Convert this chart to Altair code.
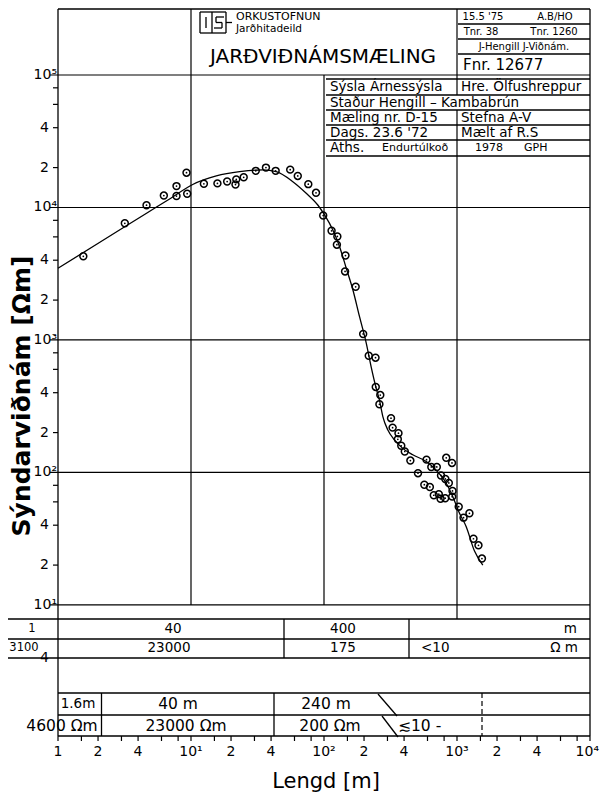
import altair as alt
import pandas as pd

FONT = "DejaVu Sans"

# ---------------- data read from the sounding sheet ----------------
# measured points: AB/2 [m] and apparent resistivity [ohm m]
ab2 = [1.55, 3.18, 4.63, 6.25, 7.78, 7.78, 9.25, 9.36, 12.5, 15.8, 18.7, 21.6, 21.9, 24.9,
       30.7, 36.6, 43.3, 55.7, 63.5, 76.2, 87.1, 98.6, 114, 126, 125, 145, 144, 173,
       197, 217, 244, 245, 265, 261, 319, 328, 363, 359, 381, 405, 446, 509, 590, 641,
       705, 830, 917, 758, 817, 868, 568, 625, 669, 730, 752, 815, 925, 920, 1030, 1120,
       1240, 1330, 1450, 1540]
rho = [4280, 7600, 10400, 12300, 12200, 14500, 18300, 12700, 15100, 15200, 15700, 14900,
       16300, 16900, 18900, 20000, 18900, 19300, 17300, 15000, 12900, 8700, 6670, 6040,
       5240, 4340, 3290, 2520, 1110, 760, 735, 442, 384, 327, 257, 218, 198, 178, 159,
       144, 123, 98.8, 125, 110, 110, 129, 118, 94.9, 89.3, 83.3, 80.8, 77.7, 67.3, 68.6,
       63.3, 63.9, 72.5, 65.7, 55.2, 45.6, 49.2, 31.6, 28.2, 22.4]

# interpreted (model) curve
curve_ab2 = [1, 2.05, 4.6, 7.0, 10.3, 15.5, 23.2, 34.7, 43.7, 58.3, 73.5, 89.8, 101, 116.5,
             131, 147, 165, 185, 208, 226, 247, 261, 277, 302, 339, 391, 465, 587, 698, 830,
             930, 1044, 1173, 1354, 1563]
curve_rho = [3476, 5440, 9010, 11700, 14900, 17290, 18630, 19190, 18630, 15650, 12800, 10440,
             8780, 6765, 5060, 3476, 2384, 1499, 944, 629, 430, 353, 264, 209, 176, 152, 136,
             121, 104, 82.9, 65.7, 49.2, 39.0, 25.5, 20.0]

# axes ticks / labels
x_label_vals = [1, 2, 4, 10, 20, 40, 100, 200, 400, 1000, 2000, 4000]
x_label_text = ["1", "2", "4", "10¹", "2", "4", "10²", "2", "4", "10³", "2", "4"]
x_last_val = [10000]
x_last_text = ["10⁴"]
x_minor = [1, 1.5, 2, 3, 4, 6, 8, 10, 15, 20, 30, 40, 60, 80, 100, 150, 200, 300, 400, 600,
           800, 1000, 1500, 2000, 3000, 4000, 6000, 8000, 10000]
y_decades = [10, 100, 1000, 10000, 100000]
y_decade_text = ["10¹", "10²", "10³", "10⁴", "10⁵"]
y_sub_vals = [4, 20, 40, 200, 400, 2000, 4000, 20000, 40000]
y_sub_text = ["4", "2", "4", "2", "4", "2", "4", "2", "4"]
y_minor = [20, 40, 60, 80, 200, 400, 600, 800, 2000, 4000, 6000, 8000,
           20000, 40000, 60000, 80000]

# ---------------- layout (form drawing, page pixels) ----------------
OX, OY = 58, 9          # page position of the plot origin
W, H = 532, 727

xs = alt.Scale(type="log", domain=[1, 10000], nice=False)
ys = alt.Scale(type="log", domain=[1.0257, 314775], nice=False)


def rules(segs, width=1.3, dash=None):
    df = pd.DataFrame([{"x": a - OX, "y": b - OY, "x2": c - OX, "y2": d - OY}
                       for a, b, c, d in segs])
    kw = dict(color="black", strokeWidth=width)
    if dash:
        kw["strokeDash"] = dash
    return alt.Chart(df).mark_rule(**kw).encode(
        x=alt.X("x:Q", scale=None), y=alt.Y("y:Q", scale=None),
        x2="x2:Q", y2="y2:Q")


def texts(items, size=12, weight="normal", align="left", angle=None):
    df = pd.DataFrame([{"x": x - OX, "y": y - OY, "t": t} for t, x, y in items])
    kw = dict(font=FONT, fontSize=size, fontWeight=weight, align=align,
              baseline="middle", color="black")
    if angle is not None:
        kw["angle"] = angle
    return alt.Chart(df).mark_text(**kw).encode(
        x=alt.X("x:Q", scale=None), y=alt.Y("y:Q", scale=None), text="t:N")


frame = rules([
    (58, 9, 590, 9), (58, 9, 58, 736), (590, 9, 590, 736), (58, 736, 590, 736),
    # right header column rows
    (458, 24, 590, 24), (458, 39, 590, 39), (458, 54, 590, 54),
    # info table
    (326, 79, 590, 79), (326, 95, 590, 95), (326, 110, 590, 110), (326, 125, 590, 125),
    (326, 140, 590, 140), (326, 156, 590, 156),
    # lower tables
    (8, 619, 590, 619), (8, 639, 590, 639), (8, 658, 590, 658),
    (58, 693, 590, 693), (58, 715, 590, 715),
    (284, 619, 284, 658), (409, 619, 409, 658),
    (101.5, 693, 101.5, 736), (274, 693, 274, 736),
    (378, 694, 397, 716), (382, 716, 398, 737),
    # logo
    (200, 12, 226, 12), (200, 33, 226, 33), (200, 12, 200, 33), (226, 12, 226, 33),
    (206, 17, 206, 28), (212, 12, 212, 33),
    (224, 17, 216, 17), (216, 17, 216, 22.5), (216, 22.5, 222, 22.5), (222, 22.5, 222, 28),
    (222, 28, 214, 28), (226, 22.5, 232, 22.5),
], width=1.3)
dashed = rules([(482, 693, 482, 736)], width=1.2, dash=[5, 3])

# decade grid lines (data positions)
hgrid = alt.Chart(pd.DataFrame({"v": y_decades})).mark_rule(color="black", strokeWidth=1.2).encode(
    y=alt.Y("v:Q", scale=ys, axis=None), x=alt.value(-8), x2=alt.value(W))
vgrid = alt.Chart(pd.DataFrame({"v": [10, 100, 1000, 1000],
                                "y0": [0, 66, 0, 101], "y1": [596, 596, 86, 610]})
                  ).mark_rule(color="black", strokeWidth=1.2).encode(
    x=alt.X("v:Q", scale=xs, axis=None), y=alt.Y("y0:Q", scale=None), y2="y1:Q")

yminor = alt.Chart(pd.DataFrame({"v": y_minor})).mark_rule(color="black", strokeWidth=1.2).encode(
    y=alt.Y("v:Q", scale=ys, axis=None), x=alt.value(-5), x2=alt.value(0))
xminor = alt.Chart(pd.DataFrame({"v": x_minor})).mark_rule(color="black", strokeWidth=1.2).encode(
    x=alt.X("v:Q", scale=xs, axis=None), y=alt.value(H), y2=alt.value(H + 5))

xlab = alt.Chart(pd.DataFrame({"v": x_label_vals, "t": x_label_text})).mark_text(
    font=FONT, fontSize=14, baseline="middle", align="center").encode(
    x=alt.X("v:Q", scale=xs, axis=None), y=alt.value(743), text="t:N")
xlab_last = alt.Chart(pd.DataFrame({"v": x_last_val, "t": x_last_text})).mark_text(
    font=FONT, fontSize=14, baseline="middle", align="right", dx=9).encode(
    x=alt.X("v:Q", scale=xs, axis=None), y=alt.value(743), text="t:N")
ylab_dec = alt.Chart(pd.DataFrame({"v": y_decades, "t": y_decade_text})).mark_text(
    font=FONT, fontSize=14, baseline="middle", align="right").encode(
    y=alt.Y("v:Q", scale=ys, axis=None), x=alt.value(-1), text="t:N")
ylab_sub = alt.Chart(pd.DataFrame({"v": y_sub_vals, "t": y_sub_text})).mark_text(
    font=FONT, fontSize=14, baseline="middle", align="right").encode(
    y=alt.Y("v:Q", scale=ys, axis=None), x=alt.value(-9), text="t:N")

curve = alt.Chart(pd.DataFrame({"a": curve_ab2, "r": curve_rho})).mark_line(
    color="black", strokeWidth=1.3, interpolate="monotone").encode(
    x=alt.X("a:Q", scale=xs, axis=None), y=alt.Y("r:Q", scale=ys, axis=None))
pts_df = pd.DataFrame({"a": ab2, "r": rho})
pts = alt.Chart(pts_df).mark_point(shape="circle", filled=False, size=48, color="black",
                                   strokeWidth=1.5, opacity=1).encode(
    x=alt.X("a:Q", scale=xs, axis=None), y=alt.Y("r:Q", scale=ys, axis=None))
dots = alt.Chart(pts_df).mark_point(shape="circle", filled=True, size=3, color="black",
                                    opacity=1).encode(
    x=alt.X("a:Q", scale=xs, axis=None), y=alt.Y("r:Q", scale=ys, axis=None))

# header texts
hdr_small = texts([("ORKUSTOFNUN", 236, 16.5)], size=11)
hdr_small2 = texts([("Jarðhitadeild", 236, 28.5)], size=10.5)
hdr_title = texts([("JARÐVIÐNÁMSMÆLING", 323, 57)], size=20, align="center")
hdr_right = texts([("15.5 '75", 483, 16.5), ("A.B/HO", 555, 16.5),
                   ("Tnr. 38", 481, 31.5), ("Tnr. 1260", 554, 31.5),
                   ("J-Hengill J-Viðnám.", 524, 46.5)], size=10, align="center")
hdr_fnr = texts([("Fnr. 12677", 463, 64.5)], size=15)
info = texts([("Sýsla  Árnessýsla", 330, 87), ("Hre. Ölfushreppur", 461, 87),
              ("Staður  Hengill – Kambabrún", 330, 102.5),
              ("Mæling nr. D-15", 330, 117.5), ("Stefna  A-V", 461, 117.5),
              ("Dags. 23.6 '72", 330, 132.5), ("Mælt af  R.S", 461, 132.5),
              ("Áths.", 330, 148)], size=13.5)
info2 = texts([("Endurtúlkoð", 382, 148), ("1978", 475, 148), ("GPH", 524, 148)], size=11)

tab1 = texts([("40", 173, 629), ("400", 343, 629), ("23000", 169, 648),
              ("175", 343, 648)], size=13.5, align="center")
tab1b = texts([("<10", 421, 648)], size=13.5)
tab1c = texts([("m", 577, 629), ("Ω m", 578, 648)], size=13.5, align="right")
tab1d = texts([("1", 32, 629), ("3100", 24, 648)], size=11.5, align="center")
tab2 = texts([("1.6m", 78, 704)], size=13.5, align="center")
tab2b = texts([("40 m", 178, 704), ("240 m", 326, 704), ("4600 Ωm", 62, 726),
               ("23000 Ωm", 186, 726), ("200 Ωm", 330, 726)], size=15.5, align="center")
tab2c = texts([("≲10 -", 398, 726)], size=15.5)

xtitle = texts([("Lengd [m]", 326, 782)], size=21, align="center")
ytitle = texts([("Sýndarviðnám [Ωm]", 22, 396)], size=25, weight="bold",
               align="center", angle=270)

chart = alt.layer(
    frame, dashed, hgrid, vgrid, yminor, xminor, xlab, xlab_last, ylab_dec, ylab_sub,
    curve, pts, dots,
    hdr_small, hdr_small2, hdr_title, hdr_right, hdr_fnr, info, info2,
    tab1, tab1b, tab1c, tab1d, tab2, tab2b, tab2c, xtitle, ytitle,
).properties(
    width=W, height=H,
    autosize=alt.AutoSizeParams(type="none"),
    padding={"left": 50, "top": 1, "right": 10, "bottom": 60},
    background="white",
).configure_view(stroke=None)

chart.save("out.html", embed_options={"renderer": "svg", "actions": False})
